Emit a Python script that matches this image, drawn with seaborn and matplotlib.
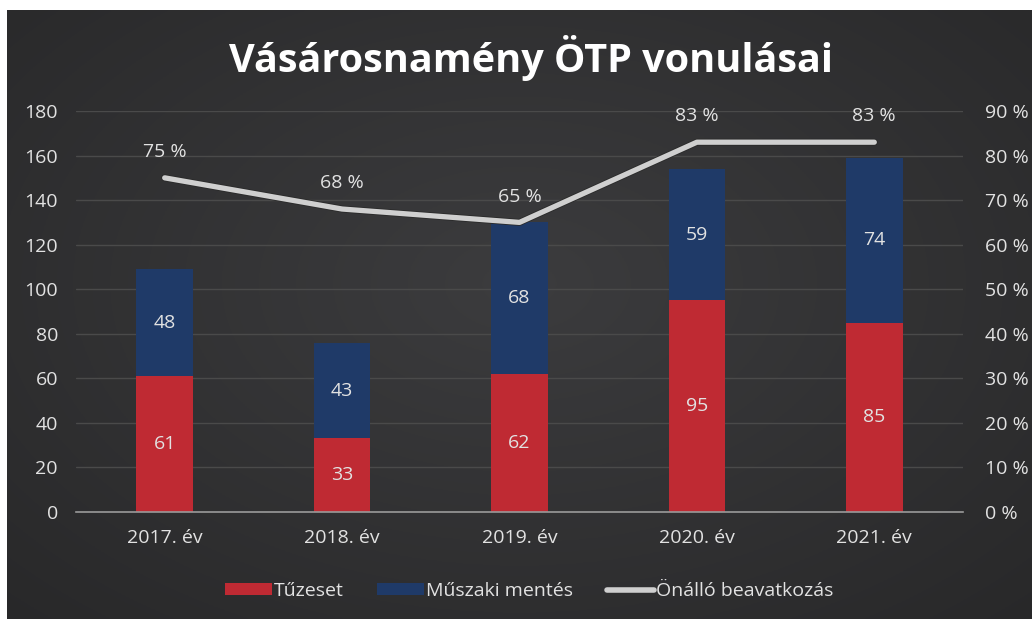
import numpy as np
import pandas as pd
import matplotlib
matplotlib.use("Agg")
import matplotlib.pyplot as plt
import matplotlib.patheffects as pe
from matplotlib.lines import Line2D
from matplotlib.patches import Patch
from matplotlib.ticker import FuncFormatter
import seaborn as sns

# ---- data ----
years = ["2017. év", "2018. év", "2019. év", "2020. év", "2021. év"]
tuzeset = [61, 33, 62, 95, 85]
muszaki = [48, 43, 68, 59, 74]
onallo = [75, 68, 65, 83, 83]
left_ticks = [0, 20, 40, 60, 80, 100, 120, 140, 160, 180]
right_ticks = [0, 10, 20, 30, 40, 50, 60, 70, 80, 90]
title = "Vásárosnamény ÖTP vonulásai"
legend_labels = ["Tűzeset", "Műszaki mentés", "Önálló beavatkozás"]

RED = "#bf2a33"
BLUE = "#1f3a68"
LINE = "#cfcfcf"
TXT = "#e2e2e2"
GRID = "#4a4a4a"
FS = 14

sns.set_theme(style="white")
plt.rcParams["font.family"] = ["Open Sans", "DejaVu Sans"]

W, H = 1032, 619
fig = plt.figure(figsize=(W / 100, H / 100), dpi=100, facecolor="white")

# background gradient (dark panel, white strip on left/top)
bg = fig.add_axes([7 / W, 0, 1 - 7 / W, 1 - 10 / H], zorder=-10)
yy, xx = np.mgrid[0:1:300j, 0:1:500j]
r = np.sqrt(((xx - 0.5) / 0.8) ** 2 + ((yy - 0.55) / 0.85) ** 2)
r = np.clip(r, 0, 1)
c0 = np.array([0x3c, 0x3c, 0x3e]) / 255
c1 = np.array([0x26, 0x26, 0x27]) / 255
img = c0[None, None, :] * (1 - r[..., None]) + c1[None, None, :] * r[..., None]
bg.imshow(img, aspect="auto", extent=[0, 1, 0, 1], origin="lower")
bg.axis("off")

ax = fig.add_axes([76 / W, 1 - 512 / H, (963 - 76) / W, (512 - 111) / H])
ax.set_facecolor("none")

totals = [a + b for a, b in zip(tuzeset, muszaki)]
df = pd.DataFrame({"year": years, "total": totals, "red": tuzeset})

sns.barplot(data=df, x="year", y="total", color=BLUE, width=0.32, ax=ax,
            saturation=1, zorder=3, linewidth=0, edgecolor="none")
sns.barplot(data=df, x="year", y="red", color=RED, width=0.32, ax=ax,
            saturation=1, zorder=3, linewidth=0, edgecolor="none")

for i, (a, b) in enumerate(zip(tuzeset, muszaki)):
    ax.text(i, a / 2, str(a), ha="center", va="center", color=TXT, fontsize=FS, zorder=5)
    ax.text(i, a + b / 2, str(b), ha="center", va="center", color=TXT, fontsize=FS, zorder=5)

ax.set_ylim(0, 180)
ax.set_xlim(-0.5, len(years) - 0.5)
ax.set_yticks(left_ticks)
ax.grid(axis="y", color=GRID, linewidth=1, zorder=0)
ax.set_axisbelow(True)
for s in ["top", "right", "left"]:
    ax.spines[s].set_visible(False)
ax.spines["bottom"].set_color("#9a9a9a")
ax.spines["bottom"].set_linewidth(1.2)
ax.spines["bottom"].set_zorder(4)
ax.tick_params(axis="both", colors=TXT, labelsize=FS, length=0)
ax.tick_params(axis="y", pad=13)
ax.tick_params(axis="x", pad=12)
ax.set_xlabel("")
ax.set_ylabel("")

ax2 = ax.twinx()
ax2.set_ylim(0, 90)
ax2.set_yticks(right_ticks)
ax2.yaxis.set_major_formatter(FuncFormatter(lambda v, p: f"{int(v)} %"))
ax2.tick_params(axis="y", colors=TXT, labelsize=FS, length=0, pad=16)
for s in ax2.spines.values():
    s.set_visible(False)
ax2.grid(False)
sns.lineplot(x=np.arange(len(years)), y=onallo, ax=ax2, color=LINE, linewidth=3.8,
             solid_capstyle="round", solid_joinstyle="round", zorder=6,
             path_effects=[pe.Stroke(linewidth=5, foreground="#2a2a2a"), pe.Normal()])
for i, v in enumerate(onallo):
    ax2.annotate(f"{v} %", (i, v), xytext=(0, 18.5), textcoords="offset points",
                 ha="center", va="center", color=TXT, fontsize=FS)

fig.text(531 / W, 1 - 58 / H, title, ha="center", va="center", color="white",
         fontsize=28.5, fontweight="bold")

handles = [Patch(facecolor=RED, edgecolor="none"),
           Patch(facecolor=BLUE, edgecolor="none"),
           Line2D([0], [0], color=LINE, linewidth=4, solid_capstyle="round")]
leg = fig.legend(handles, legend_labels, loc="center", bbox_to_anchor=(529 / W, 1 - 591 / H),
                 ncol=3, frameon=False, fontsize=FS, handlelength=2.4, handleheight=0.55,
                 handletextpad=0.1, columnspacing=1.75)
for t in leg.get_texts():
    t.set_color(TXT)

fig.savefig("out.png", dpi=100, facecolor="white")
